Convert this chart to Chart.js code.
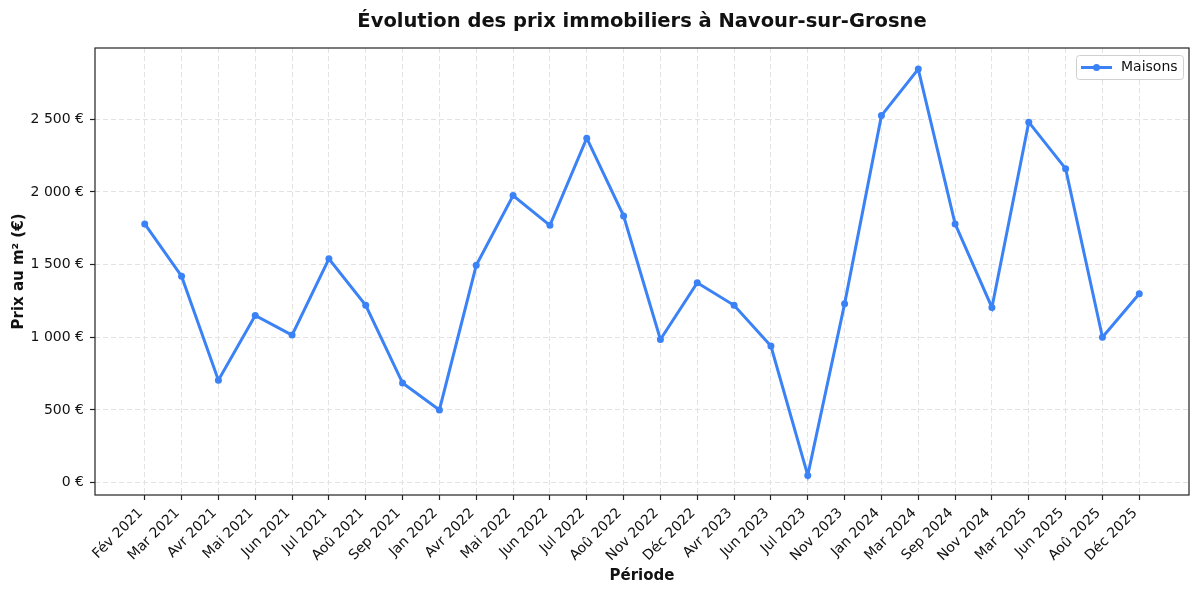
<!DOCTYPE html>
<html>
<head>
<meta charset="utf-8">
<script src="https://cdn.jsdelivr.net/npm/chart.js@4.4.1/dist/chart.umd.min.js"></script>
<style>
  html, body { margin: 0; padding: 0; background: #fff; }
  #wrap { width: 1200px; height: 594px; }
</style>
</head>
<body>
<div id="wrap"><canvas id="prixChart" width="1200" height="594"></canvas></div>
<script>
// Données
const periodes = [
    "Fév 2021", "Mar 2021", "Avr 2021", "Mai 2021", "Jun 2021", "Jul 2021", "Aoû 2021",
    "Sep 2021", "Jan 2022", "Avr 2022", "Mai 2022", "Jun 2022", "Jul 2022", "Aoû 2022",
    "Nov 2022", "Déc 2022", "Avr 2023", "Jun 2023", "Jul 2023", "Nov 2023", "Jan 2024",
    "Mar 2024", "Sep 2024", "Nov 2024", "Mar 2025", "Jun 2025", "Aoû 2025", "Déc 2025"
];
const prixMaisons = [
    1780, 1420, 705, 1150, 1015, 1540, 1220,
    685, 500, 1495, 1975, 1770, 2370, 1835,
    985, 1375, 1220, 940, 50, 1230, 2525,
    2845, 1780, 1205, 2480, 2160, 1000, 1300
];
const yTicks = [0, 500, 1000, 1500, 2000, 2500];

const bleu = '#3b82f6';
const police = "'DejaVu Sans', sans-serif";

// Format "2 500 €"
function formatEuro(v) {
    return String(v).replace(/\B(?=(\d{3})+(?!\d))/g, ' ') + ' €';
}

// Cadre autour de la zone de tracé + légende façon matplotlib
const cadrePlugin = {
    id: 'cadre',
    afterDraw(chart) {
        const { ctx, chartArea: a } = chart;
        ctx.save();
        ctx.strokeStyle = '#222';
        ctx.lineWidth = 1.2;
        ctx.strokeRect(a.left, a.top, a.right - a.left, a.bottom - a.top);

        // légende
        const bx = a.right - 113, by = a.top + 7, bw = 107, bh = 24;
        ctx.fillStyle = 'rgba(255,255,255,0.8)';
        ctx.strokeStyle = '#d0d0d0';
        ctx.lineWidth = 1;
        ctx.beginPath();
        ctx.roundRect(bx + 0.5, by + 0.5, bw, bh, 3);
        ctx.fill();
        ctx.stroke();
        const ly = by + bh / 2 + 0.5;
        ctx.strokeStyle = bleu;
        ctx.lineWidth = 3;
        ctx.beginPath();
        ctx.moveTo(bx + 5, ly);
        ctx.lineTo(bx + 36, ly);
        ctx.stroke();
        ctx.fillStyle = bleu;
        ctx.beginPath();
        ctx.arc(bx + 20.5, ly, 3.5, 0, Math.PI * 2);
        ctx.fill();
        ctx.fillStyle = '#111';
        ctx.font = "14px " + police;
        ctx.textBaseline = 'middle';
        ctx.fillText('Maisons', bx + 45, ly);
        ctx.restore();
    }
};

const points = prixMaisons.map((v, i) => ({ x: i, y: v }));

const ctx = document.getElementById('prixChart').getContext('2d');
const chart = new Chart(ctx, {
    type: 'line',
    data: {
        datasets: [{
            label: 'Maisons',
            data: points,
            borderColor: bleu,
            backgroundColor: bleu,
            borderWidth: 3,
            pointRadius: 3.5,
            pointHoverRadius: 3.5,
            pointBorderWidth: 0,
            tension: 0,
            fill: false
        }]
    },
    options: {
        responsive: false,
        animation: false,
        devicePixelRatio: 1,
        layout: { padding: { left: 0, right: 11, top: 0, bottom: 0 } },
        plugins: {
            legend: { display: false },
            tooltip: { enabled: false },
            title: {
                display: true,
                fullSize: false,
                text: 'Évolution des prix immobiliers à Navour-sur-Grosne',
                color: '#111',
                font: { family: police, size: 19.5, weight: 'bold', lineHeight: 1.2 },
                padding: { top: 10, bottom: 14.6 }
            }
        },
        scales: {
            x: {
                type: 'linear',
                min: -1.35,
                max: periodes.length - 1 + 1.35,
                afterBuildTicks(axis) {
                    axis.ticks = periodes.map((p, i) => ({ value: i }));
                },
                afterFit(axis) { axis.height = 99; },
                grid: {
                    color: '#e3e3e3',
                    lineWidth: 1,
                    drawTicks: true,
                    tickLength: 5,
                    tickColor: '#222',
                    tickWidth: 1.2,
                    tickBorderDash: []
                },
                border: { display: false, dash: [5, 3] },
                ticks: {
                    autoSkip: false,
                    minRotation: 45,
                    maxRotation: 45,
                    padding: 5,
                    labelOffset: -4,
                    color: '#111',
                    font: { family: police, size: 14 },
                    callback: (v) => periodes[v] !== undefined ? periodes[v] : ''
                },
                title: {
                    display: true,
                    text: 'Période',
                    color: '#111',
                    font: { family: police, size: 15, weight: 'bold', lineHeight: 1.2 },
                    padding: { top: 0, bottom: 9 }
                }
            },
            y: {
                min: -85,
                max: 2990,
                afterBuildTicks(axis) {
                    axis.ticks = yTicks.map(v => ({ value: v }));
                },
                afterFit(axis) { axis.width = 95; },
                grid: {
                    color: '#e3e3e3',
                    lineWidth: 1,
                    drawTicks: true,
                    tickLength: 5,
                    tickColor: '#222',
                    tickWidth: 1.2,
                    tickBorderDash: []
                },
                border: { display: false, dash: [5, 3] },
                ticks: {
                    padding: 6,
                    color: '#111',
                    font: { family: police, size: 14 },
                    callback: (v) => formatEuro(v)
                },
                title: {
                    display: true,
                    text: 'Prix au m² (€)',
                    color: '#111',
                    font: { family: police, size: 15, weight: 'bold', lineHeight: 1.2 },
                    padding: { top: 10, bottom: 0 }
                }
            }
        }
    },
    plugins: [cadrePlugin]
});
</script>
</body>
</html>
